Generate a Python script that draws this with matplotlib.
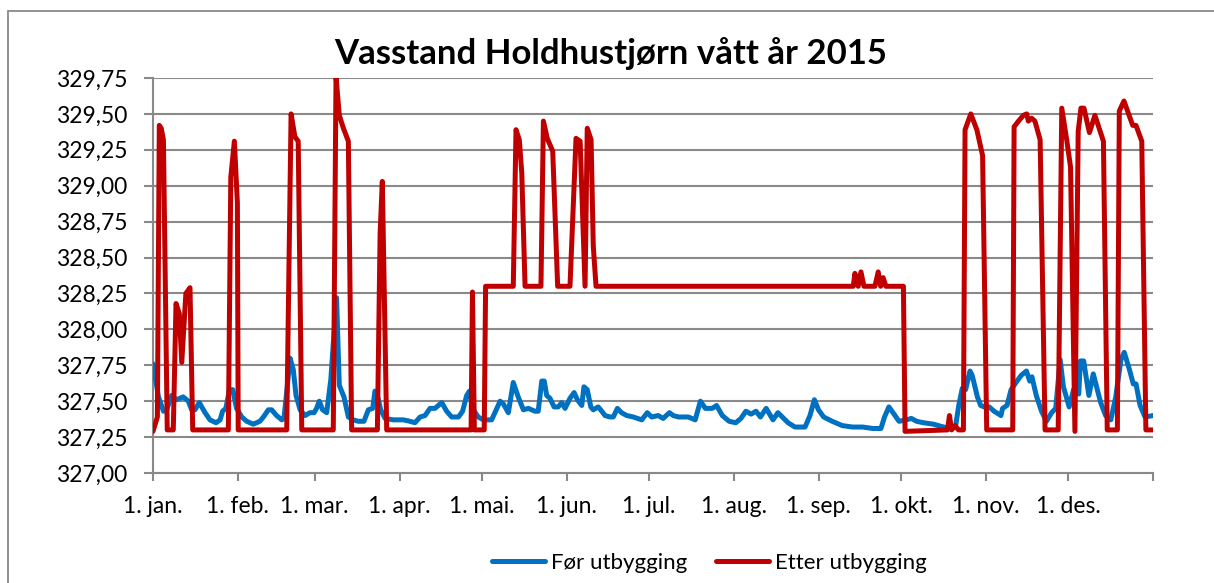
import matplotlib
matplotlib.use("Agg")
import matplotlib.pyplot as plt
from matplotlib.patches import Rectangle

plt.rcParams['font.family'] = ['Lato', 'DejaVu Sans']

title = "Vasstand Holdhustjørn vått år 2015"
month_starts = [0, 31, 59, 90, 120, 151, 181, 212, 243, 273, 304, 334, 365]
month_labels = ["1. jan.", "1. feb.", "1. mar.", "1. apr.", "1. mai.", "1. jun.",
                "1. jul.", "1. aug.", "1. sep.", "1. okt.", "1. nov.", "1. des.", ""]
y_ticks = [327.00, 327.25, 327.50, 327.75, 328.00, 328.25, 328.50, 328.75,
           329.00, 329.25, 329.50, 329.75]

# Før utbygging (day of year, water level)
blue_days = [0, 2, 3.8, 5, 6.8, 8.6, 11, 12.9, 14.1, 15.3, 16.9, 19, 20.8, 23, 24.5, 25.4,
             26.6, 27.9, 29.1, 30.5, 32.4, 34.2, 36.6, 39, 40.3, 42.1, 43.3, 45.1, 47, 47.8,
             49, 50, 51.2, 52.2, 53.7, 55.5, 57.3, 58.8, 59.7, 60.7, 61.9, 63.4, 64.9, 65.8,
             67, 68, 69.7, 71.3, 73.1, 74.9, 77, 78.6, 80.2, 81, 81.9, 83.1, 84.7, 87.7, 91.4,
             93.8, 95.6, 97.5, 99.3, 101.1, 102.9, 105.4, 107.2, 109, 111.5, 113, 114.5, 115.5,
             116.9, 118.7, 120.6, 123.6, 124.8, 126.7, 127.9, 129.7, 131.5, 133.3, 135.2, 137,
             139.4, 140.6, 141.9, 142.8, 143.7, 144.9, 146.4, 147.9, 149.2, 150.4, 152.2, 153.7,
             154.9, 156.5, 157.3, 158.5, 159.8, 160.7, 162.5, 163.8, 165, 166.8, 168, 169.5,
             171, 172.9, 175.3, 178.4, 180.4, 182, 184.4, 186.2, 188.5, 189.9, 191.8, 193.6,
             195.4, 197.9, 199.8, 201.6, 204.1, 205.7, 207.8, 210.3, 212.7, 214.6, 216.4, 218.3,
             220.1, 221.7, 223.8, 226.3, 228.1, 231.8, 234.3, 238, 239.8, 241.4, 242.9, 244.8,
             247.9, 251.6, 255.3, 259, 262.7, 265.7, 267, 268.6, 270.1, 272.3, 275, 276.8, 278.7,
             281.2, 284.8, 288.6, 291, 292.9, 294.1, 295.4, 296.6, 298.2, 299, 300.9, 302.1,
             303.4, 305.2, 307, 309.5, 310.1, 311.7, 313.2, 315, 316.9, 318.8, 320, 320.8, 322.4,
             324.3, 326.1, 328, 329.5, 331.1, 332.3, 334.4, 336, 337.9, 338.5, 339.7, 341.6,
             343.2, 345.9, 347.7, 349.6, 351.4, 353.3, 354.5, 356.4, 357.8, 358.8, 360.3, 362.1,
             365]
blue_vals = [327.76, 327.53, 327.43, 327.44, 327.54, 327.51, 327.53, 327.50, 327.44, 327.44,
             327.49, 327.42, 327.37, 327.35, 327.37, 327.43, 327.45, 327.58, 327.58, 327.45,
             327.39, 327.36, 327.34, 327.36, 327.39, 327.44, 327.44, 327.40, 327.37, 327.38,
             327.60, 327.80, 327.72, 327.54, 327.44, 327.40, 327.42, 327.42, 327.45, 327.50,
             327.44, 327.42, 327.65, 327.90, 328.22, 327.61, 327.53, 327.39, 327.37, 327.36,
             327.36, 327.44, 327.45, 327.57, 327.54, 327.44, 327.38, 327.37, 327.37, 327.36,
             327.35, 327.39, 327.40, 327.45, 327.45, 327.49, 327.43, 327.39, 327.39, 327.43,
             327.54, 327.57, 327.44, 327.39, 327.37, 327.37, 327.42, 327.50, 327.48, 327.42,
             327.63, 327.53, 327.44, 327.45, 327.43, 327.43, 327.64, 327.64, 327.54, 327.52,
             327.46, 327.46, 327.49, 327.45, 327.52, 327.56, 327.51, 327.47, 327.60, 327.58,
             327.46, 327.44, 327.46, 327.43, 327.40, 327.39, 327.39, 327.45, 327.42, 327.40,
             327.39, 327.37, 327.42, 327.39, 327.40, 327.38, 327.42, 327.40, 327.39, 327.39,
             327.39, 327.37, 327.50, 327.45, 327.45, 327.47, 327.40, 327.36, 327.35, 327.38,
             327.43, 327.41, 327.43, 327.39, 327.45, 327.37, 327.42, 327.35, 327.32, 327.32,
             327.40, 327.51, 327.44, 327.39, 327.36, 327.33, 327.32, 327.32, 327.31, 327.31,
             327.39, 327.46, 327.42, 327.36, 327.37, 327.38, 327.36, 327.35, 327.34, 327.32,
             327.31, 327.32, 327.47, 327.59, 327.58, 327.71, 327.68, 327.53, 327.47, 327.46,
             327.46, 327.43, 327.40, 327.45, 327.47, 327.58, 327.63, 327.68, 327.71, 327.64,
             327.67, 327.54, 327.43, 327.36, 327.42, 327.45, 327.79, 327.60, 327.46, 327.58,
             327.55, 327.78, 327.78, 327.54, 327.69, 327.49, 327.40, 327.37, 327.53, 327.79,
             327.84, 327.72, 327.62, 327.62, 327.47, 327.39, 327.40]

# Etter utbygging (day of year, water level)
red_days = [0, 1.6, 2.3, 3.0, 3.8, 5.2, 7.4, 8.4, 9.6, 10.5, 12.0, 13.5, 14.5, 27.5, 28.4,
            29.7, 30.8, 31.1, 48.8, 50.4, 51.8, 53.0, 54.3, 65.8, 66.8, 68.0, 69.5, 71.3, 72.5,
            81.9, 82.9, 83.7, 85.3, 116.1, 116.6, 117.3, 120.9, 121.4, 131.5, 132.5, 133.7,
            134.6, 135.8, 141.6, 142.5, 143.9, 145.9, 147.3, 147.7, 152.2, 154.4, 155.9, 157.7,
            158.5, 159.9, 160.7, 161.7, 255.6, 256.2, 257.4, 258.4, 259.5, 263.5, 264.7, 265.6,
            266.5, 267.5, 273.9, 274.5, 290.0, 290.7, 291.5, 292.7, 294.0, 295.8, 296.4, 298.5,
            300.7, 302.8, 304.3, 313.8, 314.3, 315.9, 317.7, 318.9, 319.5, 320.7, 321.9, 323.8,
            325.6, 330.4, 331.7, 333.5, 334.9, 336.5, 337.7, 338.7, 339.8, 341.8, 343.8, 346.9,
            348.3, 352.0, 352.7, 354.4, 357.6, 358.8, 360.9, 362.4, 365]
red_vals = [327.29, 327.39, 329.42, 329.40, 329.32, 327.30, 327.30, 328.18, 328.11, 327.77,
            328.25, 328.29, 327.30, 327.30, 329.06, 329.31, 328.88, 327.30, 327.30, 329.50,
            329.34, 329.31, 327.30, 327.30, 329.76, 329.49, 329.40, 329.31, 327.30, 327.30,
            328.67, 329.03, 327.30, 327.30, 328.26, 327.30, 327.30, 328.30, 328.30, 329.39,
            329.32, 329.09, 328.30, 328.30, 329.45, 329.33, 329.24, 328.51, 328.30, 328.30,
            329.33, 329.31, 328.30, 329.40, 329.32, 328.58, 328.30, 328.30, 328.39, 328.30,
            328.40, 328.30, 328.30, 328.40, 328.30, 328.36, 328.30, 328.30, 327.29, 327.30,
            327.40, 327.30, 327.33, 327.30, 327.30, 329.39, 329.50, 329.39, 329.21, 327.30,
            327.30, 329.41, 329.45, 329.49, 329.50, 329.45, 329.47, 329.45, 329.32, 327.30,
            327.30, 329.54, 329.32, 329.13, 327.29, 329.38, 329.54, 329.54, 329.37, 329.49,
            329.31, 327.30, 327.30, 329.52, 329.59, 329.42, 329.42, 329.31, 327.30, 327.30]

GRAY = "#898989"

fig = plt.figure(figsize=(12.14, 5.83), dpi=100)
ax = fig.add_axes([153 / 1214, 110 / 583, 1000 / 1214, 395 / 583])

ax.plot(blue_days, blue_vals, color="#0070C0", lw=3.6, label="Før utbygging",
        solid_joinstyle="round", solid_capstyle="round", zorder=3)
ax.plot(red_days, red_vals, color="#C00000", lw=3.6, label="Etter utbygging",
        solid_joinstyle="round", solid_capstyle="round", zorder=4)

ax.set_xlim(0, 365)
ax.set_ylim(327.00, 329.75)
ax.set_yticks(y_ticks)
ax.set_yticklabels([f"{v:.2f}".replace(".", ",") for v in y_ticks])
ax.set_xticks(month_starts)
ax.set_xticklabels(month_labels)

ax.grid(axis="y", color=GRAY, lw=1.5)
ax.set_axisbelow(True)
for s in ["top", "right"]:
    ax.spines[s].set_visible(False)
for s in ["left", "bottom"]:
    ax.spines[s].set_color(GRAY)
    ax.spines[s].set_linewidth(1.5)
ax.tick_params(axis="y", length=6.5, width=1.5, color=GRAY, pad=12, labelsize=16.5)
ax.tick_params(axis="x", length=5.5, width=1.5, color=GRAY, pad=11, labelsize=16.5)

fig.text(611 / 1214, 1 - 54 / 583, title, fontsize=25, fontweight="bold",
         ha="center", va="center")

fig.legend(loc="center", bbox_to_anchor=(709 / 1214, 1 - 563 / 583), ncol=2,
           frameon=False, fontsize=16, handlelength=2.4, handletextpad=0.25,
           columnspacing=1.3)

fig.patches.append(Rectangle((8 / 1214, -0.1), 2.0, (583 - 11) / 583 + 0.1,
                             transform=fig.transFigure, fill=False,
                             edgecolor=GRAY, lw=1.3))

fig.savefig("out.png", dpi=100)
